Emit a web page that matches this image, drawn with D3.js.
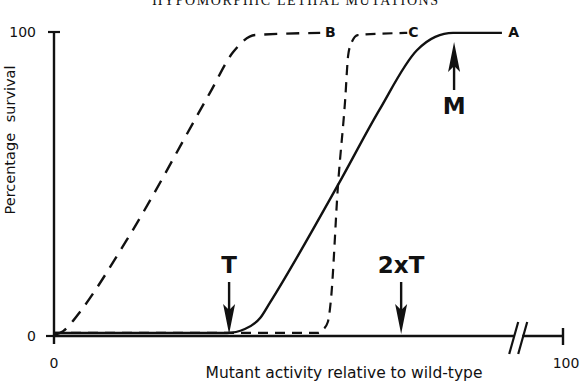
<!DOCTYPE html>
<html>
<head>
<meta charset="utf-8">
<script src="https://cdn.jsdelivr.net/npm/d3@7"></script>
<style>
  body { margin: 0; background: #fff; }
  svg { display: block; }
</style>
</head>
<body>
<div id="chart"></div>
<script>
// Data (x: mutant activity, y: percentage survival)
const curveA = [[0, 1], [34, 1], [37.5, 2.3], [40.5, 5.9], [42.4, 10.9], [55.8, 49.7], [63.9, 74.3],
  [71.3, 94], [74.9, 98.4], [78.4, 99.7], [88, 99.7]];
const curveB = [[0.2, 0.4], [1.8, 1.6], [3.5, 4.5], [5.1, 7.9], [14.3, 31.6], [30.6, 79.9], [35.2, 93.4],
  [39.5, 99], [52.3, 99.7]];
const curveC = [[0, 1], [51.9, 1], [52.8, 2], [53.8, 4.6], [54.4, 11.8], [55.8, 49.7], [57.2, 77.6],
  [57.8, 92.4], [58.5, 96.7], [59.7, 99], [69.4, 99.7]];
const curveLabels = [['A', 90.3], ['B', 54.3], ['C', 70.6]];
const markers = [
  { label: 'T', x: 34.4, dir: 'down' },
  { label: '2xT', x: 68.2, dir: 'down' },
  { label: 'M', x: 78.6, dir: 'up' }
];
const yTicks = [0, 100];
const xTicks = [0, 100];
const breakAt = 91.2;

function draw() {
  const dimensions = {
    width: 585,
    height: 384,
    margin: { top: 32, bottom: 48, left: 54, right: 22 }
  };
  dimensions.ctrWidth = dimensions.width - dimensions.margin.left - dimensions.margin.right;
  dimensions.ctrHeight = dimensions.height - dimensions.margin.top - dimensions.margin.bottom;

  const svg = d3.select('#chart')
    .append('svg')
    .attr('width', dimensions.width)
    .attr('height', dimensions.height);

  const ctr = svg.append('g')
    .attr('transform', `translate(${dimensions.margin.left},${dimensions.margin.top})`);

  // Scales
  const xScale = d3.scaleLinear().domain([0, 100]).range([0, dimensions.ctrWidth]);
  const yScale = d3.scaleLinear().domain([0, 100]).range([dimensions.ctrHeight, 0]);

  const ink = '#111';
  const sans = '"DejaVu Sans", sans-serif';

  // Title (cut off at top, as in the source scan)
  svg.append('text')
    .attr('x', 296).attr('y', 5)
    .attr('text-anchor', 'middle')
    .style('font-family', '"Liberation Serif", serif')
    .style('font-size', '14px')
    .style('letter-spacing', '1.6px')
    .attr('fill', ink)
    .text('HYPOMORPHIC LETHAL MUTATIONS');

  // Y axis
  ctr.append('line')
    .attr('x1', 0).attr('x2', 0)
    .attr('y1', yScale(100)).attr('y2', yScale(0) + 8)
    .attr('stroke', ink).attr('stroke-width', 2.4);
  ctr.append('line')
    .attr('x1', -6).attr('x2', 6)
    .attr('y1', yScale(100)).attr('y2', yScale(100))
    .attr('stroke', ink).attr('stroke-width', 2.2);
  ctr.append('line')
    .attr('x1', -8).attr('x2', 0)
    .attr('y1', yScale(0)).attr('y2', yScale(0))
    .attr('stroke', ink).attr('stroke-width', 2.2);

  ctr.selectAll('.ytick')
    .data(yTicks)
    .join('text')
    .attr('class', 'ytick')
    .attr('x', -18)
    .attr('y', (d) => yScale(d) + 5)
    .attr('text-anchor', 'end')
    .style('font-family', sans)
    .style('font-size', '14px')
    .attr('fill', ink)
    .text((d) => d);

  // X axis with break
  const bx = xScale(breakAt);
  ctr.append('line')
    .attr('x1', 0).attr('x2', bx - 4)
    .attr('y1', yScale(0)).attr('y2', yScale(0))
    .attr('stroke', ink).attr('stroke-width', 2.4);
  ctr.append('line')
    .attr('x1', bx + 4).attr('x2', xScale(100))
    .attr('y1', yScale(0)).attr('y2', yScale(0))
    .attr('stroke', ink).attr('stroke-width', 2.4);
  [-4.5, 4.5].forEach((off) => {
    ctr.append('line')
      .attr('x1', bx + off - 4.5).attr('y1', yScale(0) + 18)
      .attr('x2', bx + off + 4.5).attr('y2', yScale(0) - 14)
      .attr('stroke', ink).attr('stroke-width', 2.2);
  });
  ctr.append('line')
    .attr('x1', xScale(100)).attr('x2', xScale(100))
    .attr('y1', yScale(0) - 8).attr('y2', yScale(0) + 9)
    .attr('stroke', ink).attr('stroke-width', 2.4);

  ctr.selectAll('.xtick')
    .data(xTicks)
    .join('text')
    .attr('class', 'xtick')
    .attr('x', (d) => xScale(d) + (d === 100 ? 3 : 0))
    .attr('y', yScale(0) + 32)
    .attr('text-anchor', 'middle')
    .style('font-family', sans)
    .style('font-size', '14px')
    .attr('fill', ink)
    .text((d) => d);

  // Axis labels
  svg.append('text')
    .attr('x', 344).attr('y', 378)
    .attr('text-anchor', 'middle')
    .style('font-family', sans)
    .style('font-size', '15.5px')
    .attr('fill', ink)
    .text('Mutant activity relative to wild-type');

  svg.append('text')
    .attr('transform', 'translate(15,140) rotate(-90)')
    .attr('text-anchor', 'middle')
    .style('font-family', sans)
    .style('font-size', '14.5px')
    .style('word-spacing', '6px')
    .attr('fill', ink)
    .text('Percentage survival');

  // Curves
  const line = d3.line()
    .x((d) => xScale(d[0]))
    .y((d) => yScale(d[1]))
    .curve(d3.curveMonotoneX);

  ctr.append('path').datum(curveB)
    .attr('d', line).attr('fill', 'none')
    .attr('stroke', ink).attr('stroke-width', 2.4)
    .attr('stroke-dasharray', '13,9');
  ctr.append('path').datum(curveC)
    .attr('d', line).attr('fill', 'none')
    .attr('stroke', ink).attr('stroke-width', 2.2)
    .attr('stroke-dasharray', '10,7');
  ctr.append('path').datum(curveA)
    .attr('d', line).attr('fill', 'none')
    .attr('stroke', ink).attr('stroke-width', 2.4);

  ctr.selectAll('.clabel')
    .data(curveLabels)
    .join('text')
    .attr('class', 'clabel')
    .attr('x', (d) => xScale(d[1]))
    .attr('y', yScale(100) + 5)
    .attr('text-anchor', 'middle')
    .style('font-family', sans)
    .style('font-size', '14px')
    .style('font-weight', 'bold')
    .attr('fill', ink)
    .text((d) => d[0]);

  // Arrows
  markers.forEach((m) => {
    const x = xScale(m.x);
    let tipY, tailY, textY;
    if (m.dir === 'down') {
      tipY = yScale(0) - 2; tailY = tipY - 52; textY = tailY - 9;
    } else {
      tipY = yScale(100) + 10; tailY = tipY + 48; textY = tailY + 24;
    }
    const s = m.dir === 'down' ? -1 : 1;
    const headLen = 30;
    ctr.append('line')
      .attr('x1', x).attr('x2', x)
      .attr('y1', tailY).attr('y2', tipY + s * headLen * 0.6)
      .attr('stroke', ink).attr('stroke-width', 2.4);
    ctr.append('path')
      .attr('d', `M${x},${tipY} L${x - 6},${tipY + s * headLen} L${x},${tipY + s * headLen * 0.8} L${x + 6},${tipY + s * headLen} Z`)
      .attr('fill', ink);
    ctr.append('text')
      .attr('x', x).attr('y', textY)
      .attr('text-anchor', 'middle')
      .style('font-family', sans)
      .style('font-size', '23px')
      .style('font-weight', 'bold')
      .attr('fill', ink)
      .text(m.label);
  });
}

draw();
</script>
</body>
</html>
